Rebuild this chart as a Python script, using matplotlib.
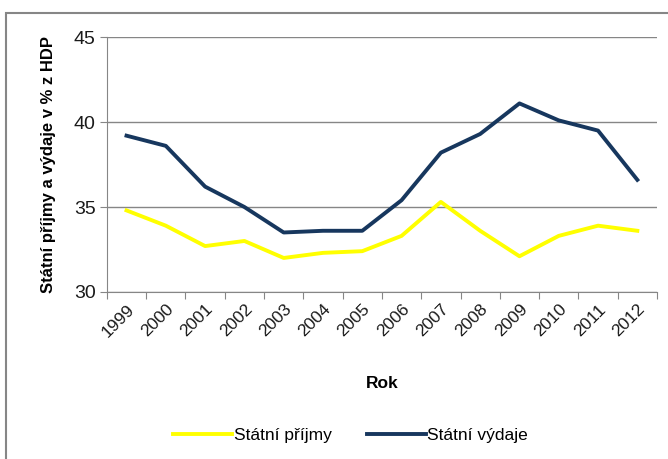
import matplotlib.pyplot as plt
from matplotlib.patches import Rectangle
from matplotlib.transforms import ScaledTranslation

plt.rcParams['font.family'] = ['Liberation Sans', 'DejaVu Sans']

# data
roky = ['1999', '2000', '2001', '2002', '2003', '2004', '2005',
        '2006', '2007', '2008', '2009', '2010', '2011', '2012']
prijmy = [34.8, 33.9, 32.7, 33.0, 32.0, 32.3, 32.4,
          33.3, 35.3, 33.6, 32.1, 33.3, 33.9, 33.6]
vydaje = [39.2, 38.6, 36.2, 35.0, 33.5, 33.6, 33.6,
          35.4, 38.2, 39.3, 41.1, 40.1, 39.5, 36.6]

fig = plt.figure(figsize=(6.68, 4.59), dpi=100)
ax = fig.add_axes([0.160, 0.364, 0.8235, 0.555])

x = list(range(len(roky)))
ax.plot(x, prijmy, color='#FFFF00', lw=2.8, label='Státní příjmy', solid_joinstyle='round')
ax.plot(x, vydaje, color='#17375E', lw=2.8, label='Státní výdaje', solid_joinstyle='round')

ax.set_xlim(-0.5, len(roky) - 0.5)
ax.set_ylim(30, 45)
ax.set_yticks([30, 35, 40, 45])
ax.set_xticks([i - 0.5 for i in range(len(roky) + 1)])
ax.set_xticklabels([])
ax.set_xticks(x, minor=True)
ax.set_xticklabels(roky, minor=True, rotation=45, ha='right', rotation_mode='anchor', fontsize=12.5,
                   color='#1a1a1a')
posun = ScaledTranslation(8 / 100, 0, fig.dpi_scale_trans)
for t in ax.get_xticklabels(minor=True):
    t.set_transform(t.get_transform() + posun)
ax.tick_params(axis='x', which='minor', length=0, pad=7)
ax.tick_params(axis='x', which='major', length=5, color='#868686', direction='out')
ax.tick_params(axis='y', length=5, color='#868686', labelsize=14, labelcolor='#1a1a1a', pad=3)

ax.grid(axis='y', color='#868686', lw=1.0)
ax.set_axisbelow(True)
for s in ['top', 'right']:
    ax.spines[s].set_visible(False)
for s in ['left', 'bottom']:
    ax.spines[s].set_color('#868686')

ax.set_ylabel('Státní příjmy a výdaje v % z HDP', fontsize=12, fontweight='bold', labelpad=13)
ax.set_xlabel('Rok', fontsize=12.5, fontweight='bold', labelpad=26)

fig.legend(loc='center', bbox_to_anchor=(0.525, 0.052), ncol=2, frameon=False,
           fontsize=12.5, handlelength=3.4, handletextpad=0.1, columnspacing=2.0)

# chart frame, cut off on the right and bottom
fig.patches.append(Rectangle((6 / 668, -0.05), 1.1, 1 - 13 / 459 + 0.05, transform=fig.transFigure,
                             fill=False, edgecolor='#868686', lw=1.5))

fig.savefig('out.png', dpi=100)
